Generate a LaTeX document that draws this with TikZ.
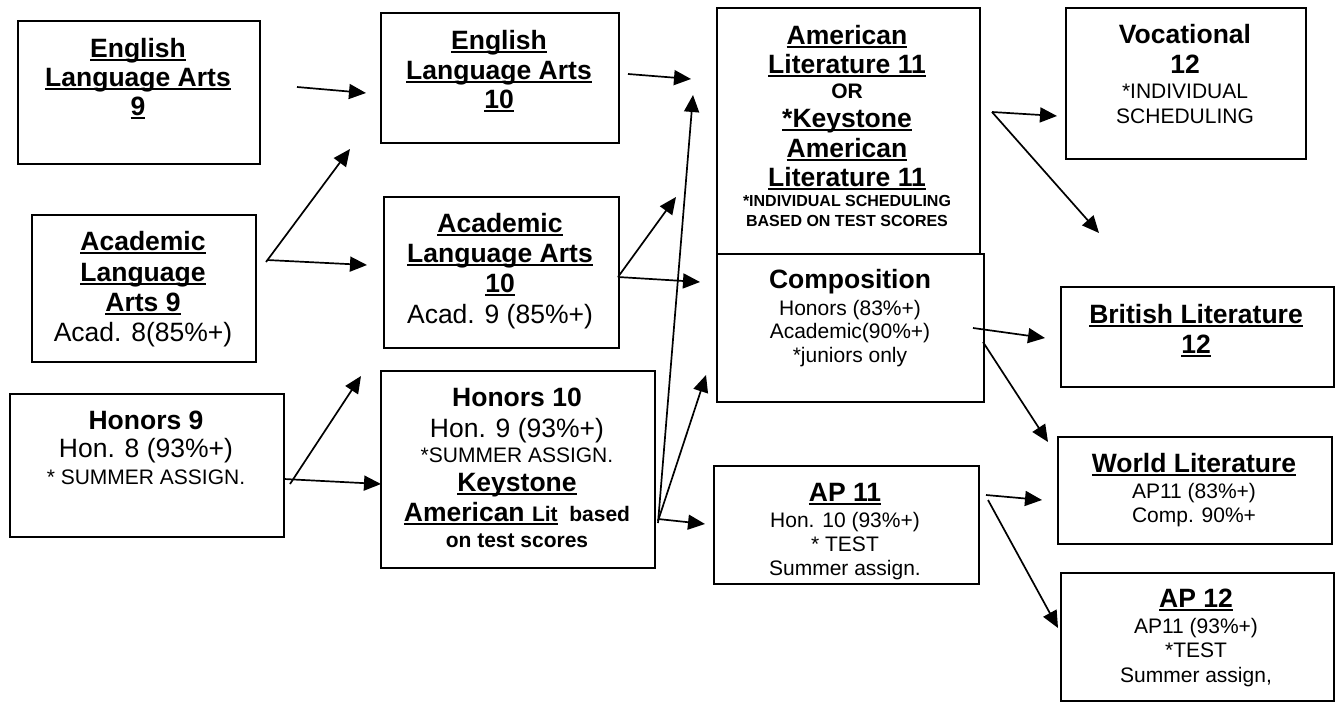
\documentclass[tikz,border=0pt]{standalone}
\usepackage{fontspec}
\setmainfont{Liberation Sans}
\usetikzlibrary{arrows.meta}
\newcommand\FBig{\fontsize{26.5}{30}\selectfont}
\newcommand\FSm{\fontsize{21}{24}\selectfont}
\newcommand\FTn{\fontsize{16}{20}\selectfont}
\newcommand\UL[1]{{\setbox0\hbox{#1}\rlap{\rule[-0.16em]{\wd0}{0.08em}}\box0}}
\newcommand\BU[1]{\textbf{\UL{#1}}}
\newcommand\TopS{\rule{0pt}{20pt}}
\tikzset{
  box/.style={draw, line width=2pt, anchor=north west, inner sep=0pt},
  txt/.style={anchor=north, align=center, inner sep=0pt, font=\FBig},
  arr/.style={-{Triangle[length=17pt,width=15pt]}, line width=1.7pt}
}
\begin{document}
\begin{tikzpicture}[x=1pt,y=-1pt]
\useasboundingbox[fill=white] (0,0) rectangle (1338,704);
% boxes
\node[box, minimum width=242pt, minimum height=143pt] (A) at (17,20) {};
\node[box, minimum width=224pt, minimum height=147pt] (B) at (31,214) {};
\node[box, minimum width=274pt, minimum height=143pt] (C) at (9,393) {};
\node[box, minimum width=238pt, minimum height=130pt] (D) at (380,12) {};
\node[box, minimum width=235pt, minimum height=151pt] (E) at (383,196) {};
\node[box, minimum width=274pt, minimum height=197pt] (F) at (380,370) {};
\node[box, minimum width=263pt, minimum height=246pt] (G) at (716,7) {};
\node[box, minimum width=267pt, minimum height=148pt] (H) at (716,253) {};
\node[box, minimum width=265pt, minimum height=118pt] (I) at (713,465) {};
\node[box, minimum width=240pt, minimum height=151pt] (J) at (1065,7) {};
\node[box, minimum width=273pt, minimum height=100pt] (K) at (1060,286) {};
\node[box, minimum width=274pt, minimum height=107pt] (L) at (1057,436) {};
\node[box, minimum width=273pt, minimum height=128pt] (M) at (1060,572) {};
% texts
\node[txt] (At) at (138,37) {\TopS\BU{English}\\[-1pt]\BU{Language Arts}\\[-1pt]\BU{9}};
\node[txt] (Bt) at (143,230) {\TopS\BU{Academic}\\[1pt]\BU{Language}\\\BU{Arts 9}\\Acad. 8(85\%+)};
\node[txt] (Ct) at (146,409) {\TopS\textbf{Honors 9}\\[-2pt]Hon. 8 (93\%+)\\[-3pt]{\FSm * SUMMER ASSIGN.}};
\node[txt] (Dt) at (499,29) {\TopS\BU{English}\\\BU{Language Arts}\\[-1pt]\BU{10}};
\node[txt] (Et) at (500,212) {\TopS\BU{Academic}\\\BU{Language Arts}\\\BU{10}\\[1pt]Acad. 9 (85\%+)};
\node[txt] (Ft) at (517,386) {\TopS\textbf{Honors 10}\\[1pt]Hon. 9 (93\%+)\\[-5pt]{\FSm *SUMMER ASSIGN.}\\[-1pt]\BU{Keystone}\\\textbf{\UL{American {\FSm Lit}}{\FSm\ \ based}}\\[-4pt]{\FSm\bfseries on test scores}};
\node[txt] (Gt) at (847,24) {\TopS\BU{American}\\[-1pt]\BU{Literature 11}\\[-5pt]{\FSm\bfseries OR}\\[-1pt]\BU{*Keystone}\\\BU{American}\\[-1pt]\BU{Literature 11}\\[-10pt]{\FTn\bfseries *INDIVIDUAL SCHEDULING}\\[-10pt]{\FTn\bfseries BASED ON TEST SCORES}};
\node[txt] (Ht) at (850,268) {\TopS\textbf{Composition}\\[-3pt]{\FSm Honors (83\%+)}\\[-7pt]{\FSm Academic(90\%+)}\\[-6pt]{\FSm *juniors only}};
\node[txt] (It) at (845,481) {\TopS\BU{AP 11}\\[-4pt]{\FSm Hon. 10 (93\%+)}\\[-6pt]{\FSm * TEST}\\[-6pt]{\FSm Summer assign.}};
\node[txt] (Jt) at (1185,23) {\TopS\textbf{Vocational}\\\textbf{12}\\[-5pt]{\FSm *INDIVIDUAL}\\[-5pt]{\FSm SCHEDULING}};
\node[txt] (Kt) at (1196,303) {\TopS\BU{British Literature}\\\BU{12}};
\node[txt] (Lt) at (1194,452) {\TopS\BU{World Literature}\\[-4pt]{\FSm AP11 (83\%+)}\\[-6pt]{\FSm Comp. 90\%+}};
\node[txt] (Mt) at (1196,587) {\TopS\BU{AP 12}\\[-4pt]{\FSm AP11 (93\%+)}\\[-6pt]{\FSm *TEST}\\[-5pt]{\FSm Summer assign,}};
% arrow end points
\coordinate (s1) at (297,87);   \coordinate (e1) at (366,93);
\coordinate (s2) at (266,262);  \coordinate (e2) at (350,149);
\coordinate (s3) at (267,260);  \coordinate (e3) at (367,265);
\coordinate (s4) at (290,484);  \coordinate (e4) at (361,376);
\coordinate (s5) at (284,479);  \coordinate (e5) at (381,484);
\coordinate (s6) at (628,74);   \coordinate (e6) at (691,79);
\coordinate (s7) at (618,277);  \coordinate (e7) at (676,197);
\coordinate (s8) at (618,277);  \coordinate (e8) at (700,282);
\coordinate (s9) at (658,523);  \coordinate (e9) at (693,95);
\coordinate (s10) at (658,521); \coordinate (e10) at (706,375);
\coordinate (s11) at (658,519); \coordinate (e11) at (705,524);
\coordinate (s12) at (992,112); \coordinate (e12) at (1057,116);
\coordinate (s13) at (992,112); \coordinate (e13) at (1099,233);
\coordinate (s14) at (973,328); \coordinate (e14) at (1045,338);
\coordinate (s15) at (983,342); \coordinate (e15) at (1048,442);
\coordinate (s16) at (986,495); \coordinate (e16) at (1042,500);
\coordinate (s17) at (988,500); \coordinate (e17) at (1058,628);
\foreach \i in {1,...,17} {\draw[arr] (s\i) -- (e\i);}
\end{tikzpicture}
\end{document}
